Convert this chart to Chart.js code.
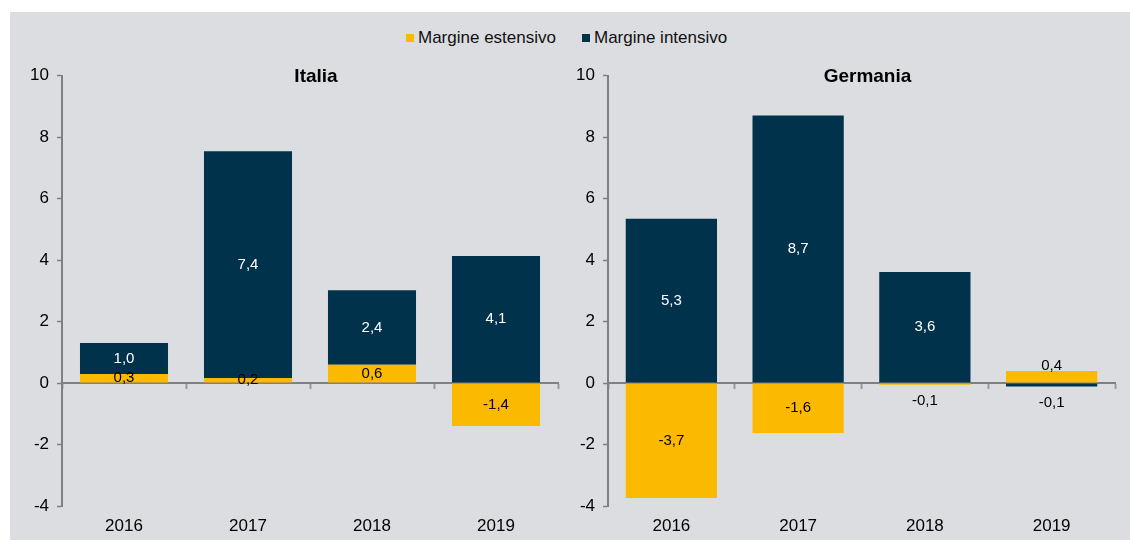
<!DOCTYPE html>
<html>
<head>
<meta charset="utf-8">
<script src="https://cdn.jsdelivr.net/npm/chart.js@4"></script>
<style>
    body { margin: 0; background: #fff; font-family: "Liberation Sans", Arial, sans-serif; }
    #panel { position: absolute; left: 10px; top: 12px; width: 1120px; height: 528px; background: #dcdde0; }
    #legend { position: absolute; left: 396px; top: 16px; display: flex; align-items: center; font-size: 17px; color: #111; }
    #legend span.item { display: flex; align-items: center; margin-right: 26px; }
    #legend span.box { width: 8px; height: 8px; margin-right: 4px; display: inline-block; }
    canvas { position: absolute; top: 0; }
    #chartIt { left: 0; }
    #chartDe { left: 550px; }
</style>
</head>
<body>
<div id="panel">
    <div id="legend">
        <span class="item"><span class="box" style="background:#fbba00"></span>Margine estensivo</span>
        <span class="item"><span class="box" style="background:#00324b"></span>Margine intensivo</span>
    </div>
    <canvas id="chartIt" width="550" height="528"></canvas>
    <canvas id="chartDe" width="570" height="528"></canvas>
</div>
<script>
// Data
const years = ['2016', '2017', '2018', '2019'];
const italiaEstensivo = [0.29, 0.16, 0.59, -1.40];
const italiaIntensivo = [1.01, 7.38, 2.43, 4.13];
const germaniaEstensivo = [-3.74, -1.63, -0.06, 0.39];
const germaniaIntensivo = [5.34, 8.70, 3.61, -0.11];
const yMin = -4, yMax = 10, yStep = 2;

const YELLOW = '#fbba00';
const NAVY = '#00324b';
const AXIS = '#808080';

Chart.defaults.font.family = '"Liberation Sans", Arial, sans-serif';
Chart.defaults.color = '#000';

// Value labels inside (or next to) each segment
const valueLabels = {
    id: 'valueLabels',
    afterDatasetsDraw(chart, args, opts) {
        const ctx = chart.ctx;
        ctx.save();
        ctx.font = '15px "Liberation Sans", Arial, sans-serif';
        ctx.textAlign = 'center';
        ctx.textBaseline = 'middle';
        chart.data.datasets.forEach((ds, di) => {
            const meta = chart.getDatasetMeta(di);
            meta.data.forEach((bar, i) => {
                const v = ds.data[i];
                const p = bar.getProps(['x', 'y', 'base'], true);
                const h = Math.abs(p.base - p.y);
                let y = (p.y + p.base) / 2;
                let color = ds.labelColor;
                if (opts.outsideSmall && h < 14) {
                    y = v > 0 ? Math.min(p.y, p.base) - 5 : Math.max(p.y, p.base) + 16;
                    color = '#000';
                }
                ctx.fillStyle = color;
                ctx.fillText(v.toFixed(1).replace('.', ','), p.x, y);
            });
        });
        ctx.restore();
    }
};

// Panel title drawn at the top of the plot area
const panelTitle = {
    id: 'panelTitle',
    afterDraw(chart, args, opts) {
        const ctx = chart.ctx;
        const a = chart.chartArea;
        ctx.save();
        ctx.font = 'bold 19px "Liberation Sans", Arial, sans-serif';
        ctx.fillStyle = '#000';
        ctx.textAlign = 'center';
        ctx.textBaseline = 'middle';
        ctx.fillText(opts.text, (a.left + a.right) / 2 + 6, a.top + 1);
        ctx.restore();
    }
};

function makeChart(id, title, est, int, pad, axisWidth, outsideSmall, barPct) {
    return new Chart(document.getElementById(id), {
        type: 'bar',
        data: {
            labels: years,
            datasets: [
                {label: 'Margine estensivo', data: est, backgroundColor: YELLOW, labelColor: '#000'},
                {label: 'Margine intensivo', data: int, backgroundColor: NAVY, labelColor: '#fff'}
            ]
        },
        options: {
            responsive: false,
            animation: false,
            layout: {padding: pad},
            datasets: {bar: {categoryPercentage: 1, barPercentage: barPct}},
            scales: {
                x: {
                    stacked: true,
                    position: {y: 0},
                    // labels sit far below the zero line, keep them out of the layout
                    afterFit: s => { s.height = 0; s.paddingLeft = 0; s.paddingRight = 0; },
                    border: {color: AXIS, width: 2},
                    grid: {drawOnChartArea: false, tickLength: 5, tickColor: '#9a9a9a', tickWidth: 2},
                    ticks: {font: {size: 17}, padding: 128, color: '#000'}
                },
                y: {
                    stacked: true,
                    min: yMin,
                    max: yMax,
                    afterFit: s => { s.width = axisWidth; },
                    border: {color: AXIS, width: 2},
                    grid: {drawOnChartArea: false, tickLength: 5, tickColor: AXIS, tickWidth: 1.5},
                    ticks: {stepSize: yStep, font: {size: 17}, padding: 8, color: '#000'}
                }
            },
            plugins: {
                legend: {display: false},
                tooltip: {enabled: false},
                valueLabels: {outsideSmall: outsideSmall},
                panelTitle: {text: title}
            }
        },
        plugins: [valueLabels, panelTitle]
    });
}

makeChart('chartIt', 'Italia', italiaEstensivo, italiaIntensivo,
    {left: 0, right: 2, top: 63.5, bottom: 34}, 52, false, 0.71);
makeChart('chartDe', 'Germania', germaniaEstensivo, germaniaIntensivo,
    {left: 0, right: 15, top: 63.5, bottom: 34}, 48, true, 0.72);
</script>
</body>
</html>
